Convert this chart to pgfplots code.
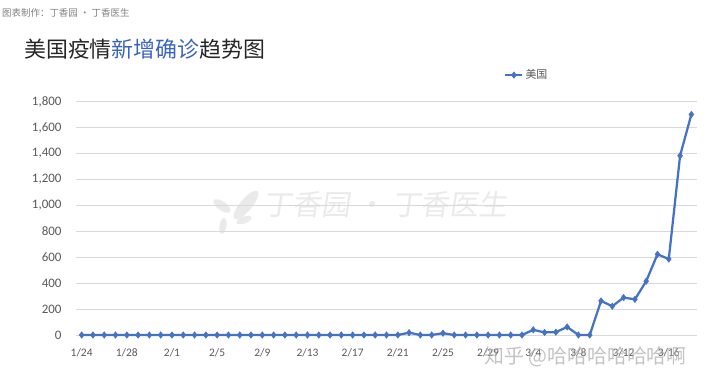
\documentclass[border=0pt]{standalone}
\usepackage{pgfplots}
\pgfplotsset{compat=1.18}
\usepackage{fontspec}
\setmainfont{Carlito}
\newfontfamily\cjk{Noto Sans CJK SC}
\definecolor{lineblue}{RGB}{68,114,196}
\definecolor{titleblue}{RGB}{59,100,190}
\definecolor{gridgray}{RGB}{217,217,217}
\definecolor{labelgray}{RGB}{89,89,89}
\definecolor{titlegray}{RGB}{38,38,38}
\definecolor{wm}{RGB}{234,234,234}
\definecolor{zhgray}{RGB}{175,175,175}
\begin{document}
\begin{tikzpicture}[x=1bp,y=1bp]
\path[use as bounding box] (0,0) rectangle (720,386);
% background watermark
\fill[wm] (246,181) ellipse[x radius=18, y radius=6, rotate=50];
\fill[wm] (222,180) ellipse[x radius=10, y radius=4.5, rotate=-35];
\fill[wm] (223,160) ellipse[x radius=8, y radius=3.5, rotate=80];
\fill[wm] (244,166) ellipse[x radius=8, y radius=3.5, rotate=20];
\node[anchor=west, text=wm, font=\cjk\fontsize{29}{29}\selectfont, inner sep=0, xslant=0.15] at (265,181) {丁香园 · 丁香医生};
% source and title
\node[anchor=west, text=gray, font=\cjk\fontsize{9.5}{9.5}\selectfont, inner sep=0] at (2,373) {图表制作：丁香园 · 丁香医生};
\node[anchor=west, text=titlegray, font=\cjk\fontsize{22}{22}\selectfont, inner sep=0] at (24,337) {美国疫情{\color{titleblue}新增确诊}趋势图};
\begin{axis}[
  at={(76bp,51bp)}, anchor=south west,
  scale only axis, width=621bp, height=233.3bp,
  xmin=-0.5, xmax=54.5, ymin=0, ymax=1800,
  axis line style={draw=none},
  ymajorgrids, grid style={gridgray, line width=0.75bp},
  ytick={0,200,...,1800},
  xtick={0,4,...,52},
  xticklabels={1/24,1/28,2/1,2/5,2/9,2/13,2/17,2/21,2/25,2/29,3/4,3/8,3/12,3/16},
  major tick length=0, tick style={draw=none},
  /pgf/number format/assume math mode=true,
  /pgf/number format/1000 sep={,},
  yticklabel style={font=\fontsize{13}{13}\selectfont, text=labelgray, xshift=-11bp},
  xticklabel style={font=\fontsize{11.5}{11.5}\selectfont, text=labelgray, yshift=-10bp},
  legend style={at={(0.726,1.114)}, anchor=center, draw=none, fill=none,
    font=\cjk\fontsize{11}{11}\selectfont, text=labelgray},
  clip=false,
]
\addplot[lineblue, line width=2.25bp, mark=diamond*, mark size=3.3bp,
  mark options={fill=lineblue, draw=lineblue, line width=0.4bp}]
coordinates {
(0,0) (1,0) (2,0) (3,0) (4,0) (5,0) (6,0) (7,0) (8,0) (9,0)
(10,0) (11,0) (12,0) (13,0) (14,0) (15,0) (16,0) (17,0) (18,0) (19,0)
(20,0) (21,0) (22,0) (23,0) (24,0) (25,0) (26,0) (27,0) (28,0) (29,18)
(30,0) (31,0) (32,14) (33,0) (34,0) (35,0) (36,0) (37,0) (38,0) (39,0)
(40,40) (41,20) (42,22) (43,62) (44,0) (45,0) (46,263) (47,222) (48,289) (49,275)
(50,415) (51,623) (52,586) (53,1383) (54,1702)
};
\addlegendentry{美国}
\end{axis}
\node[anchor=west, text=zhgray, opacity=0.75, font=\cjk\fontsize{20}{20}\selectfont, inner sep=0] at (484,29) {知乎 @哈哈哈哈哈哈啊};
\end{tikzpicture}
\end{document}
